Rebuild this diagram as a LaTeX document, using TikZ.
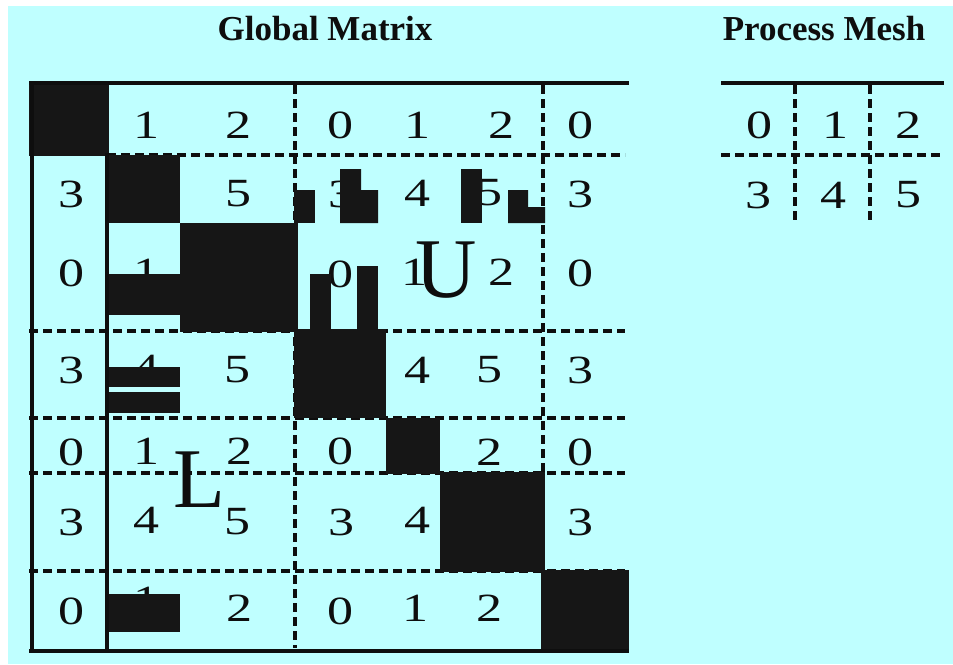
\documentclass[tikz,border=0pt]{standalone}
\usepackage{fontspec}
\setmainfont{Liberation Serif}
\newfontfamily\ownerfont[FakeStretch=1.3]{Liberation Serif}
\usepackage{xcolor}
\usepackage{tikz}

\definecolor{meshbg}{RGB}{191,255,255}
\definecolor{blockfill}{RGB}{22,22,22}
\definecolor{gridline}{RGB}{14,14,14}

\tikzset{
  cell/.style={inner sep=0pt, text=gridline, font=\ownerfont\fontsize{40}{40}\selectfont},
  title/.style={inner sep=0pt, text=gridline, font=\fontsize{35}{35}\selectfont\bfseries},
  factor/.style={inner sep=0pt, text=gridline, font=\fontsize{85}{85}\selectfont},
  solidline/.style={draw=gridline, line width=4pt},
  dashline/.style={draw=gridline, line width=4pt, dash pattern=on 9pt off 5pt},
  block/.style={fill=blockfill}
}

\begin{document}
\begin{tikzpicture}[x=1pt, y=-1pt]
      % Canvas
      \useasboundingbox (0,0) rectangle (953,664);
      \fill[white] (0,0) rectangle (953,664);
      \fill[meshbg] (8,6) rectangle (953,664);

      % Titles
      \node[title] (gtitle) at (325,29) {Global Matrix};
      \node[title] (ptitle) at (824,29) {Process Mesh};

      % Dashed block boundaries
      \draw[dashline] (107,155) -- (625,155);
      \draw[dashline] (29,331) -- (625,331);
      \draw[dashline] (29,418) -- (625,418);
      \draw[dashline] (29,473) -- (625,473);
      \draw[dashline] (29,571) -- (625,571);
      \draw[dashline] (295,85) -- (295,648);
      \draw[dashline] (543,85) -- (543,570);

      % Owners, row 0
      \node[cell] (m01) at (146,125) {1};
      \node[cell] (m02) at (238,125) {2};
      \node[cell] (m03) at (340,125) {0};
      \node[cell] (m04) at (417,125) {1};
      \node[cell] (m05) at (501,125) {2};
      \node[cell] (m06) at (580,125) {0};

      % Owners, row 1
      \node[cell] (m10) at (71,194) {3};
      \node[cell] (m12) at (238,194) {5};
      \node[cell] (m13) at (341,194) {3};
      \node[cell] (m14) at (417,193) {4};
      \node[cell] (m15) at (489,193) {5};
      \node[cell] (m16) at (580,194) {3};

      % Owners, row 2
      \node[cell] (m20) at (71,273) {0};
      \node[cell] (m21) at (146,272) {1};
      \node[cell] (m23) at (340,274) {0};
      \node[cell] (m24) at (414,272) {1};
      \node[cell] (m25) at (501,272) {2};
      \node[cell] (m26) at (580,273) {0};

      % Owners, row 3
      \node[cell] (m30) at (71,370) {3};
      \node[cell] (m31) at (146,368) {4};
      \node[cell] (m32) at (237,370) {5};
      \node[cell] (m34) at (417,370) {4};
      \node[cell] (m35) at (489,370) {5};
      \node[cell] (m36) at (580,370) {3};

      % Owners, row 4
      \node[cell] (m40) at (71,452) {0};
      \node[cell] (m41) at (146,451) {1};
      \node[cell] (m42) at (239,451) {2};
      \node[cell] (m43) at (340,451) {0};
      \node[cell] (m45) at (489,452) {2};
      \node[cell] (m46) at (580,452) {0};

      % Owners, row 5
      \node[cell] (m50) at (71,522) {3};
      \node[cell] (m51) at (146,520) {4};
      \node[cell] (m52) at (237,522) {5};
      \node[cell] (m53) at (341,522) {3};
      \node[cell] (m54) at (417,520) {4};
      \node[cell] (m56) at (580,522) {3};

      % Owners, row 6
      \node[cell] (m60) at (71,611) {0};
      \node[cell] (m61) at (146,600) {1};
      \node[cell] (m62) at (239,608) {2};
      \node[cell] (m63) at (340,611) {0};
      \node[cell] (m64) at (415,608) {1};
      \node[cell] (m65) at (489,608) {2};

      % Diagonal blocks
      \fill[block] (29,81) rectangle (109,156);
      \fill[block] (107,155) rectangle (180,223);
      \fill[block] (180,223) rectangle (298,332);
      \fill[block] (294,329) rectangle (386,418);
      \fill[block] (386,418) rectangle (440,474);
      \fill[block] (440,472) rectangle (545,572);
      \fill[block] (541,570) rectangle (629,653);

      % Fill-in pieces
      \fill[block] (294,190) rectangle (315,223);
      \fill[block] (340,169) -- (361,169) -- (361,190) -- (378,190)
                   -- (378,223) -- (340,223) -- cycle;
      \fill[block] (461,169) rectangle (482,223);
      \fill[block] (508,190) -- (528,190) -- (528,207) -- (545,207)
                   -- (545,223) -- (508,223) -- cycle;
      \fill[block] (109,274) rectangle (180,315);
      \fill[block] (310,274) rectangle (331,331);
      \fill[block] (357,266) rectangle (378,331);
      \fill[block] (109,367) rectangle (180,387);
      \fill[block] (109,392) rectangle (180,413);
      \fill[block] (109,594) rectangle (180,632);

      % Frame of the matrix
      \draw[solidline] (29,83) -- (629,83);
      \draw[solidline] (31.5,81) -- (31.5,653);
      \draw[solidline] (107,153) -- (107,653);
      \draw[solidline] (29,650.5) -- (629,650.5);

      % Factor labels
      \node[factor] (ufactor) at (446,270) {U};
      \node[factor] (lfactor) at (199,480) {L};

      % Process mesh
      \draw[solidline] (721,83) -- (944,83);
      \draw[dashline] (795,85) -- (795,220);
      \draw[dashline] (870,85) -- (870,220);
      \draw[dashline] (721,155) -- (940,155);
      \node[cell] (p0) at (759,125) {0};
      \node[cell] (p1) at (835,125) {1};
      \node[cell] (p2) at (908,125) {2};
      \node[cell] (p3) at (758,195) {3};
      \node[cell] (p4) at (833,195) {4};
      \node[cell] (p5) at (908,195) {5};
\end{tikzpicture}
\end{document}
